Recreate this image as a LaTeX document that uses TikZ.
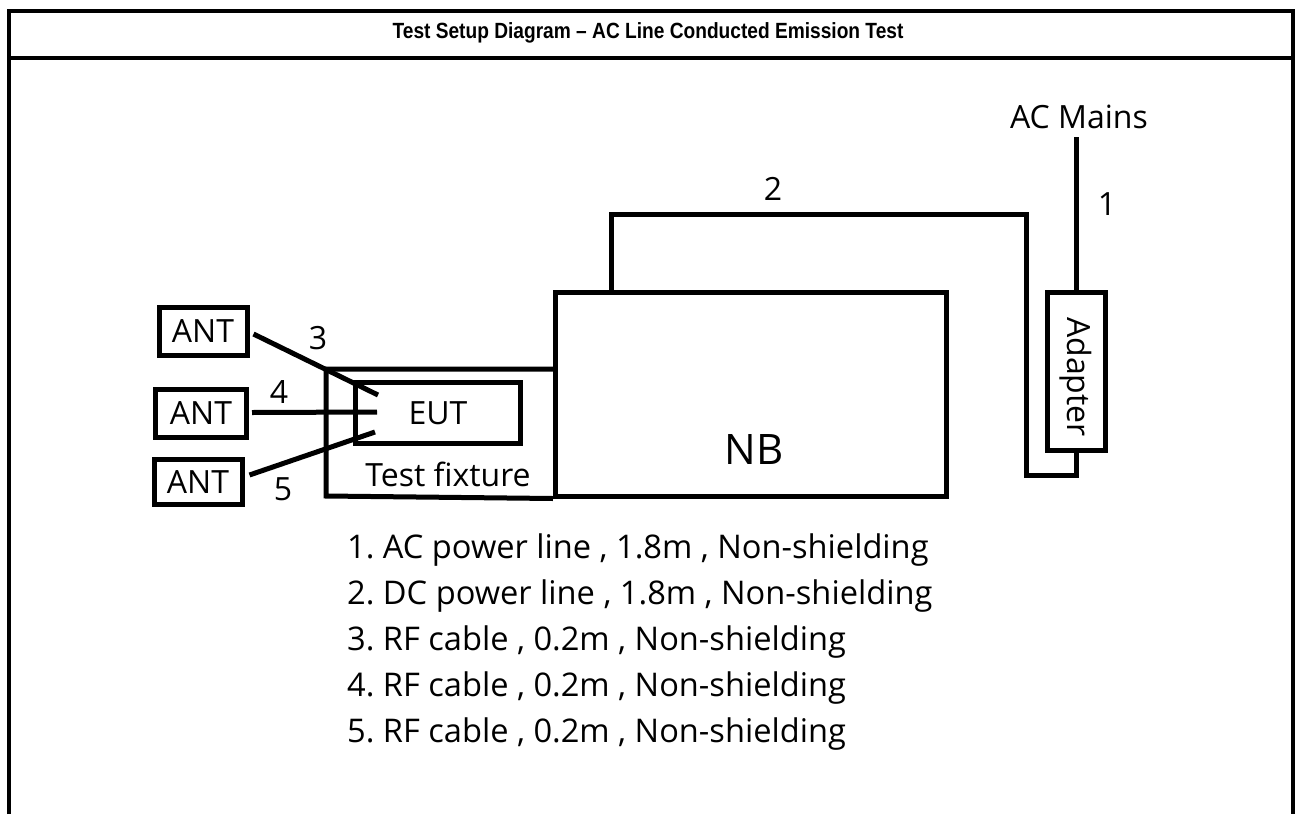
\documentclass[tikz,border=0pt]{standalone}
\usepackage{graphicx}
\usepackage{fontspec}
\setmainfont{Open Sans}
\newfontfamily\titlefont{Liberation Sans}
\frenchspacing
\begin{document}
\begin{tikzpicture}[x=1pt,y=-1pt,
  box/.style={draw, line width=5pt, inner sep=0pt},
  wire/.style={line width=5pt},
  frame/.style={line width=3.5pt},
  lbl/.style={inner sep=0pt, font=\fontsize{32}{38}\selectfont},
  item/.style={inner sep=0pt, anchor=base west, font=\fontsize{32.6}{38}\selectfont}]
\useasboundingbox (0,0) rectangle (1295,814);
% frame
\coordinate (ftl) at (9,11);
\coordinate (ftr) at (1293,11);
\coordinate (fbl) at (9,814);
\coordinate (fbr) at (1293,814);
\coordinate (sl) at (9,58);
\coordinate (sr) at (1293,58);
\draw[frame] (fbl) -- (ftl) -- (ftr) -- (fbr);
\draw[frame] (sl) -- (sr);
\node[inner sep=0pt, font=\titlefont\bfseries\fontsize{22}{26}\selectfont] (title) at (648,33) {\scalebox{0.87}[1]{Test Setup Diagram – AC Line Conducted Emission Test}};
% boxes
\node[box, lbl, minimum width=88pt, minimum height=48pt] (a1) at (203,331) {ANT};
\node[box, lbl, minimum width=91pt, minimum height=48pt] (a2) at (201,413.5) {ANT};
\node[box, lbl, minimum width=88pt, minimum height=45pt] (a3) at (198,482) {ANT};
\node[box, lbl, minimum width=165pt, minimum height=61pt] (eut) at (438,413) {EUT};
\node[box, minimum width=391pt, minimum height=204pt] (nb) at (751,394) {};
\node[inner sep=0pt, font=\fontsize{42}{48}\selectfont] (nbl) at (754,450) {NB};
\node[box, minimum width=58pt, minimum height=158pt] (ad) at (1076.5,371) {};
\node[lbl, rotate=-90] (adl) at (1076,377) {Adapter};
% test fixture
\coordinate (fx1) at (326,369);
\coordinate (fx2) at (326,496);
\draw[wire] (nb.west |- fx1) -- (fx1) -- (fx2) -- (nb.south west);
\node[lbl] (fxl) at (448,474) {Test fixture};
% RF cables
\coordinate (e3) at (378,395);
\coordinate (e4) at (377,412);
\coordinate (e5) at (375,432);
\draw[wire] ([xshift=4pt,yshift=-3pt]a1.east) -- (e3);
\draw[wire] ([xshift=3pt,yshift=1pt]a2.east) -- (e4);
\draw[wire] ([xshift=5pt,yshift=7pt]a3.east) -- (e5);
\node[lbl] (l3) at (318,338) {3};
\node[lbl] (l4) at (279,392) {4};
\node[lbl] (l5) at (283,489) {5};
% DC line
\coordinate (d1) at (1026,214);
\coordinate (d2) at (1026,475);
\draw[wire] ([xshift=58pt]nb.north west) |- (d1) -- (d2) -| (ad.south);
\node[lbl] (l2) at (773,189) {2};
% AC line
\coordinate (acm) at (1076.5,137);
\draw[wire] (ad.north) -- (acm);
\node[lbl] (acl) at (1079,117) {AC Mains};
\node[lbl] (l1) at (1107,204) {1};
% list
\node[item] (t1) at (347,558) {1. AC power line , 1.8m , Non-shielding};
\node[item] (t2) at (347,604) {2. DC power line , 1.8m , Non-shielding};
\node[item] (t3) at (347,650) {3. RF cable , 0.2m , Non-shielding};
\node[item] (t4) at (347,696) {4. RF cable , 0.2m , Non-shielding};
\node[item] (t5) at (347,742) {5. RF cable , 0.2m , Non-shielding};
\end{tikzpicture}
\end{document}
